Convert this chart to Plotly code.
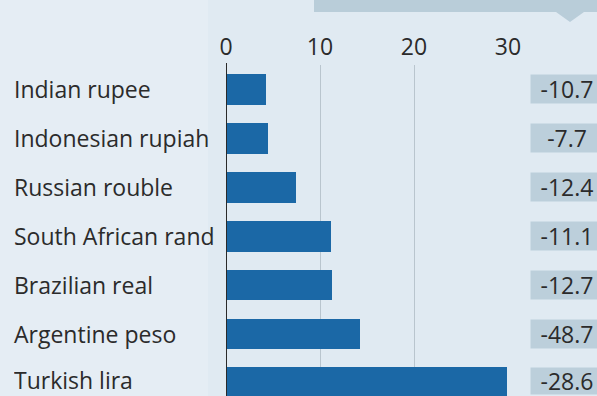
import plotly.graph_objects as go

currencies = ["Indian rupee", "Indonesian rupiah", "Russian rouble", "South African rand",
              "Brazilian real", "Argentine peso", "Turkish lira"]
bar_values = [4.3, 4.5, 7.4, 11.2, 11.3, 14.3, 29.9]
side_values = ["-10.7", "-7.7", "-12.4", "-11.1", "-12.7", "-48.7", "-28.6"]
x_ticks = [0, 10, 20, 30]

W, H = 597, 396
BG = "#e0eaf2"
TEXT = "#2b2b2b"
FONT = "Open Sans"

rows = list(range(len(currencies)))

fig = go.Figure()
fig.add_trace(go.Bar(
    x=bar_values, y=rows, orientation="h", width=0.63,
    marker=dict(color="#1b68a6", line=dict(width=0)),
    hoverinfo="skip",
))

# currency names on the left; the last row sits on the bottom edge, so it is nudged up
for r, name in zip(rows, currencies):
    last = r == rows[-1]
    fig.add_annotation(x=12 / W, xref="paper", y=r, yref="y", text=name,
                       showarrow=False, xanchor="left", yanchor="middle",
                       height=26 if last else None, yshift=3 if last else 0,
                       valign="middle",
                       font=dict(family=FONT, size=23, color=TEXT))

# boxed figures on the right
for r, v in zip(rows, side_values):
    last = r == rows[-1]
    fig.add_annotation(x=530 / W, xref="paper", y=r, yref="y", text=v,
                       showarrow=False, xanchor="left", yanchor="middle",
                       bgcolor="#bccfdb", borderpad=1, width=70,
                       height=24 if last else 26, yshift=2 if last else 0,
                       align="center", valign="middle",
                       font=dict(family=FONT, size=23, color=TEXT))

shapes = [
    # lighter panel behind the labels
    dict(type="rect", xref="paper", yref="paper", x0=0, x1=208 / W, y0=0, y1=1,
         fillcolor="#e5edf4", line=dict(width=0), layer="below"),
    # header strip
    dict(type="rect", xref="paper", yref="paper", x0=314 / W, x1=1.0,
         y0=1 - 12 / H, y1=1.0, fillcolor="#b9cdd9", line=dict(width=0)),
    dict(type="path", xref="paper", yref="paper",
         path=f"M {556 / W} {1 - 12 / H} L {584 / W} {1 - 12 / H} L {570 / W} {1 - 22 / H} Z",
         fillcolor="#b9cdd9", line=dict(width=0)),
    # zero line
    dict(type="line", xref="x", yref="paper", x0=0, x1=0, y0=0, y1=1 - 63 / H,
         line=dict(color="#2a2a2a", width=2)),
]

fig.update_layout(
    width=W, height=H, margin=dict(l=0, r=0, t=0, b=0, pad=0, autoexpand=False),
    paper_bgcolor=BG, plot_bgcolor="rgba(0,0,0,0)",
    showlegend=False, bargap=0, shapes=shapes,
    xaxis=dict(domain=[226 / W, 508 / W], range=[0, 30], side="top",
               tickvals=x_ticks, ticktext=[str(t) for t in x_ticks],
               showgrid=True, gridcolor="#b9c5ce", gridwidth=1, automargin=False,
               zeroline=False, showline=False, ticks="", ticklabelstandoff=4,
               tickfont=dict(family=FONT, size=23, color=TEXT), fixedrange=True),
    yaxis=dict(domain=[0, 1 - 65 / H], range=[6.27, -0.5], showgrid=False, automargin=False,
               zeroline=False, showticklabels=False, ticks="", fixedrange=True),
)

fig.write_html("out.html")
